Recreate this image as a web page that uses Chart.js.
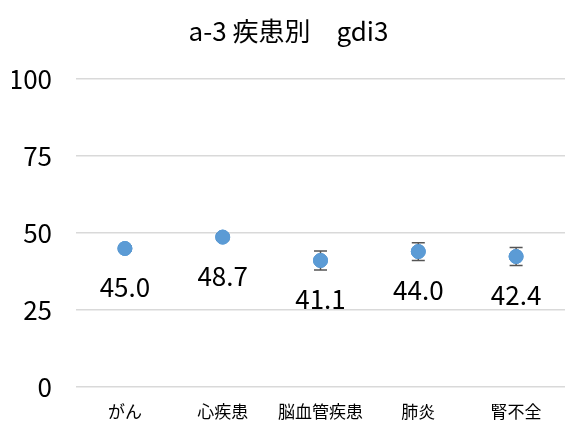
<!DOCTYPE html>
<html>
<head>
<meta charset="utf-8">
<script src="https://cdn.jsdelivr.net/npm/chart.js@4"></script>
<style>
  body { margin: 0; background: #fff; }
  #wrap { width: 565px; height: 421px; }
</style>
</head>
<body>
<div id="wrap"><canvas id="chart"></canvas></div>
<script>
const categories = ['がん', '心疾患', '脳血管疾患', '肺炎', '腎不全'];
const values = [45.0, 48.7, 41.1, 44.0, 42.4];
const errors = [0.8, 1.0, 3.1, 2.9, 2.9];
const yTicks = [0, 25, 50, 75, 100];

const font = "'Noto Sans CJK JP', 'Noto Sans', sans-serif";

// error bars + value labels
const extrasPlugin = {
    id: 'extras',
    afterDatasetsDraw(chart) {
        const ctx = chart.ctx;
        const x = chart.scales.x;
        const y = chart.scales.y;
        ctx.save();
        values.forEach((v, i) => {
            const px = x.getPixelForValue(i);
            const top = y.getPixelForValue(v + errors[i]);
            const bot = y.getPixelForValue(v - errors[i]);
            ctx.strokeStyle = '#555';
            ctx.lineWidth = 1.5;
            ctx.beginPath();
            ctx.moveTo(px, top); ctx.lineTo(px, bot);
            ctx.moveTo(px - 6.5, top); ctx.lineTo(px + 6.5, top);
            ctx.moveTo(px - 6.5, bot); ctx.lineTo(px + 6.5, bot);
            ctx.stroke();
        });
        // redraw points on top of bars
        chart.getDatasetMeta(0).data.forEach(p => p.draw(ctx));
        ctx.fillStyle = '#000';
        ctx.font = '26px ' + font;
        ctx.textAlign = 'center';
        ctx.textBaseline = 'middle';
        values.forEach((v, i) => {
            const px = x.getPixelForValue(i);
            const py = y.getPixelForValue(v);
            ctx.fillText(v.toFixed(1), px, py + 39);
        });
        ctx.restore();
    }
};

new Chart(document.getElementById('chart').getContext('2d'), {
    type: 'line',
    data: {
        labels: categories,
        datasets: [{
            data: values,
            showLine: false,
            pointRadius: 7,
            pointHoverRadius: 7,
            pointBackgroundColor: '#5b9bd5',
            pointBorderColor: '#5b9bd5'
        }]
    },
    options: {
        responsive: true,
        maintainAspectRatio: false,
        animation: false,
        layout: { autoPadding: false, padding: { left: 12, right: 0, top: 0, bottom: 0 } },
        plugins: {
            legend: { display: false },
            tooltip: { enabled: false },
            title: {
                display: true,
                text: 'a-3 疾患別　gdi3',
                color: '#000',
                font: { family: font, size: 26, weight: 'normal' },
                padding: { top: 16, bottom: 32 }
            }
        },
        scales: {
            x: {
                offset: true,
                grid: { display: false, drawTicks: false },
                border: { display: false },
                ticks: {
                    color: '#000',
                    font: { family: font, size: 17 },
                    padding: 14,
                    maxRotation: 0
                },
                afterFit(axis) {
                    axis.height = 34;
                    axis.paddingLeft = 0;
                    axis.paddingRight = 0;
                }
            },
            y: {
                min: 0,
                max: 100,
                afterBuildTicks(axis) {
                    axis.ticks = yTicks.map(v => ({ value: v }));
                },
                grid: { color: '#d9d9d9', lineWidth: 1.5, drawTicks: false },
                border: { display: false },
                ticks: {
                    color: '#000',
                    font: { family: font, size: 26 },
                    padding: 24
                },
                afterFit(axis) {
                    axis.width = 64;
                    axis.paddingTop = 0;
                    axis.paddingBottom = 0;
                }
            }
        }
    },
    plugins: [extrasPlugin]
});
</script>
</body>
</html>
